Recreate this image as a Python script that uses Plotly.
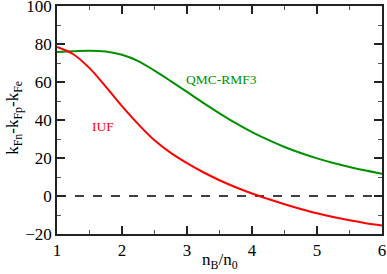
import plotly.graph_objects as go

x_vals = [1.0, 1.25, 1.5, 1.75, 2.0, 2.25, 2.5, 2.75, 3.0, 3.25, 3.5, 3.75, 4.0,
          4.25, 4.5, 4.75, 5.0, 5.25, 5.5, 5.75, 6.0]
qmc_rmf3 = [75.8, 76.2, 76.5, 76.0, 74.3, 71.0, 66.0, 60.5, 54.8, 49.0, 43.5, 38.3,
            33.6, 29.5, 25.8, 22.6, 19.8, 17.4, 15.3, 13.4, 11.7]
iuf = [78.4, 74.6, 67.3, 57.6, 47.3, 37.8, 29.3, 22.7, 17.3, 12.5, 8.3, 4.6, 1.3,
       -1.6, -4.3, -6.8, -9.1, -11.1, -12.8, -14.3, -15.5]
x_ticks = [1, 2, 3, 4, 5, 6]
y_ticks = [-20, 0, 20, 40, 60, 80, 100]

FONT = "Liberation Serif"
RED = "#ff0000"
GREEN = "#009000"

fig = go.Figure()
fig.add_trace(go.Scatter(x=[1, 6], y=[0, 0], mode="lines",
                         line=dict(color="black", width=1.5, dash="dash"),
                         showlegend=False, hoverinfo="skip"))
fig.add_trace(go.Scatter(x=x_vals, y=qmc_rmf3, mode="lines", name="QMC-RMF3",
                         line=dict(color=GREEN, width=2, shape="spline"),
                         showlegend=False))
fig.add_trace(go.Scatter(x=x_vals, y=iuf, mode="lines", name="IUF",
                         line=dict(color=RED, width=2, shape="spline"),
                         showlegend=False))

axis_common = dict(showline=True, linecolor="#222222", linewidth=1.5,
                   mirror="allticks", ticks="inside", ticklen=8, tickwidth=1.5,
                   tickcolor="#222222", showgrid=False, zeroline=False,
                   automargin=False, ticklabeloverflow="allow",
                   tickfont=dict(family=FONT, size=17, color="black"))

fig.update_layout(
    width=387, height=274,
    margin=dict(l=57, r=5, t=6, b=40),
    plot_bgcolor="white", paper_bgcolor="white",
    font=dict(family=FONT, size=17, color="black"),
    xaxis=dict(range=[1, 6], tickvals=x_ticks,
               minor=dict(ticks="inside", ticklen=4, dtick=0.5, tickwidth=1.2,
                          tickcolor="#555555"),
               **axis_common),
    yaxis=dict(range=[-20, 100], tickvals=y_ticks,
               minor=dict(ticks="inside", ticklen=4, dtick=10, tickwidth=1.2,
                          tickcolor="#555555"),
               **axis_common),
    annotations=[
        dict(text="k<sub>Fn</sub>-k<sub>Fp</sub>-k<sub>Fe</sub>", textangle=-90,
             xref="paper", yref="paper", x=-0.172, y=0.51, showarrow=False,
             font=dict(family=FONT, size=17, color="black")),
        dict(text="n<sub>B</sub>/n<sub>0</sub>", xref="paper", yref="paper",
             x=0.5, y=-0.061, yanchor="top", showarrow=False,
             font=dict(family=FONT, size=17, color="black")),
        dict(text="QMC-RMF3", x=3.53, y=61.2, xref="x", yref="y", showarrow=False,
             font=dict(family=FONT, size=13.5, color=GREEN)),
        dict(text="IUF", x=1.7, y=36.5, xref="x", yref="y", showarrow=False,
             font=dict(family=FONT, size=13.5, color=RED)),
    ],
)

fig.write_html("out.html", config={"displayModeBar": False},
               post_script="document.body.style.margin='0';document.body.style.overflow='hidden';")
